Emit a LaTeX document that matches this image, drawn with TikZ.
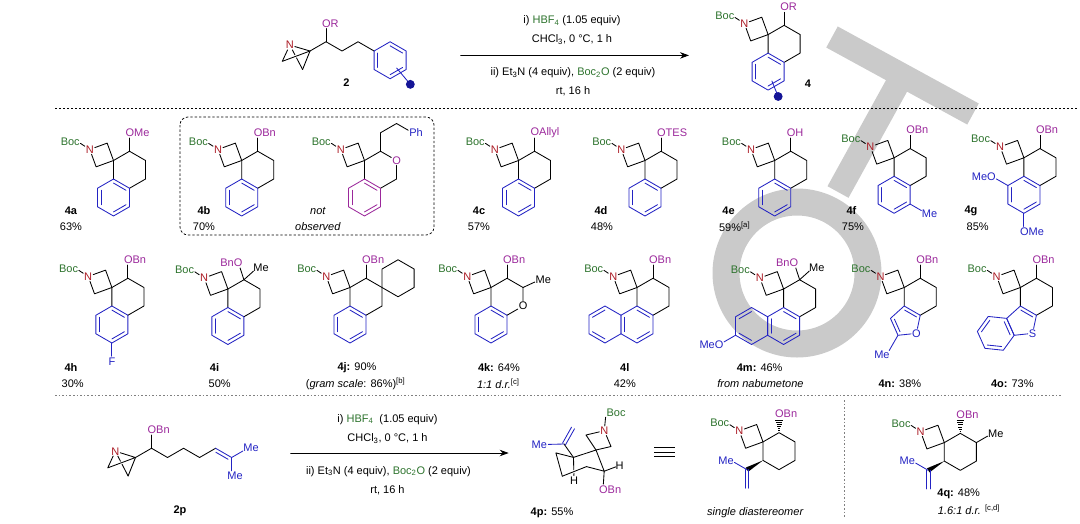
\documentclass[tikz,border=0pt]{standalone}
\usepackage{fontspec}
\setmainfont{Liberation Sans}
\usetikzlibrary{calc,arrows.meta}

\definecolor{aro}{RGB}{35,35,195}
\definecolor{nred}{RGB}{170,25,35}
\definecolor{bocg}{RGB}{45,115,45}
\definecolor{orp}{RGB}{155,40,155}
\definecolor{dotb}{RGB}{20,20,150}
\definecolor{wmark}{RGB}{202,202,202}

\tikzset{
  natom/.style={text=nred},
  orlab/.style={text=orp},
  arlab/.style={text=aro},
  ofirst/.style={anchor=west, xshift=-4.9pt},
  olast/.style={anchor=east, xshift=4.9pt},
  mfirst/.style={anchor=west, xshift=-5.2pt},
  elast/.style={anchor=east, xshift=3.7pt},
  cno/.style={font=\fontsize{11}{13}\selectfont\bfseries},
  sepline/.style={line width=0.6pt, line cap=butt, dash pattern=on 1.6pt off 2pt},
}

% spiro azetidine with Boc on N, spiro carbon at (0,0)
\newcommand{\azet}{%
  \node[natom] (n) at (155:1.414) {N};
  \coordinate (bc) at ($(n)+(147:0.8)$);
  \node[text=bocg, anchor=east, xshift=3.35pt] (boc) at (bc) {Boc};
  \draw (n) -- (110:1) -- (0,0) -- (200:1) -- (n);
  \draw[shorten >=3.6pt] (n) -- (bc);}

% ring on the spiro carbon
\newcommand{\satring}{\draw (0,-1) -- (0,0) -- (0.866,0.5) -- (1.732,0) -- (1.732,-1) -- (0.866,-1.5);}

% hexagon: [colour]{centre}{rotation}{first angles of the double bonds}
\newcommand{\arom}[4][aro]{%
  \draw[#1, shift={(#2)}, rotate=#3] (90:1) -- (30:1) -- (-30:1) -- (-90:1) -- (-150:1) -- (150:1) -- cycle;
  \foreach \a in {#4} {\draw[#1, shift={(#2)}, rotate=#3] (\a:0.78) -- (\a-60:0.78);}}

% O-substituent straight up from the top ring carbon
\newcommand{\orup}[1]{%
  \coordinate (t) at (0.866,0.5);
  \coordinate (o) at (0.866,1.5);
  \draw[shorten >=5.4pt] (t) -- (o);
  \node[orlab, ofirst] (or) at (o) {#1};}

% BnO and Me on the top ring carbon
\newcommand{\quatC}{%
  \coordinate (t) at (0.866,0.5);
  \coordinate (o) at ($(t)+(108:0.95)$);
  \coordinate (m) at ($(t)+(42:1)$);
  \draw[shorten >=5.2pt] (t) -- (o);
  \draw[shorten >=5.5pt] (t) -- (m);
  \node[orlab, olast] (or) at (o) {BnO};
  \node[mfirst] (me) at (m) {Me};}

% five-membered ring below LL-Bt
\newcommand{\fivering}{%
  \coordinate (p1) at (0,-1);
  \coordinate (p2) at (0.866,-1.5);
  \coordinate (p3) at (0.658,-2.478);
  \coordinate (p4) at (-0.337,-2.583);
  \coordinate (p5) at (-0.743,-1.669);
  \coordinate (pc) at (0.089,-1.846);}

\begin{document}
\begin{tikzpicture}[x=1pt, y=-1pt, line width=0.85pt, line cap=round, line join=round,
  every node/.style={font=\fontsize{11}{13}\selectfont, inner sep=0.6pt}]
\useasboundingbox (0,0) rectangle (1080,523);

% watermark
\draw[wmark, line width=27pt] (797,273) circle[radius=71];
\draw[wmark, line width=24pt, line cap=butt] (832,37) -- (973,114);
\draw[wmark, line width=24pt, line cap=butt] (902,76) -- (838,192);

% separators
\draw[line width=0.75pt, line cap=butt, dash pattern=on 2pt off 2pt] (55,108) -- (1078,108);
\draw[gray, sepline] (55,395) -- (1061,395);
\draw[gray, sepline] (844.5,400) -- (844.5,518);
\draw[line width=0.75pt, line cap=butt, dash pattern=on 2.4pt off 2pt, rounded corners=8pt] (180,117) rectangle (434,235);

% ---------- top reaction ----------
\begin{scope}[shift={(310,51)}, x=18.5pt, y=18.5pt]
  \node[natom] (n2) at (-1.09,0.32) {N};
  \coordinate (c3) at (0,0);
  \coordinate (c2) at (-1.5,-0.56);
  \coordinate (c4) at (-0.4,-1.0);
  \draw (c4) -- (n2);
  \draw[white, line width=2.8pt, line cap=butt] ($(c2)!0.38!(c3)$) -- ($(c2)!0.6!(c3)$);
  \draw (n2) -- (c2) -- (c3) -- (n2);
  \draw (c3) -- (c4);
  \draw (c3) -- (0.866,0.5) -- (1.732,0) -- (2.598,0.5) -- (3.464,0);
  \draw[shorten >=5.4pt] (0.866,0.5) -- (0.866,1.5);
  \node[orlab, ofirst] (or2) at (0.866,1.5) {OR};
  \arom{4.33,-0.5}{0}{90,-30,-150}
  \draw[aro] ($(4.33,-0.5)+(-50:0.55)$) -- ($(4.33,-0.5)+(-50:1.5)$);
  \fill[dotb] ($(4.33,-0.5)+(-50:1.7)$) circle[radius=0.24];
\end{scope}
\node[cno] (l2) at (346.5,83) {2};

\coordinate (a1s) at (460.7,55.4);
\coordinate (a1e) at (689,55.4);
\draw[line width=0.9pt, -{Stealth[length=9pt, width=6.5pt]}] (a1s) -- (a1e);
\node (c1a) at (572,20.8) {i) \textcolor{bocg}{HBF\textsubscript{4}} (1.05 equiv)};
\node (c1b) at (572,39.8) {CHCl\textsubscript{3}, 0 °C, 1 h};
\node (c1c) at (573,72.7) {ii) Et\textsubscript{3}N (4 equiv), \textcolor{bocg}{Boc\textsubscript{2}O} (2 equiv)};
\node (c1d) at (573,91.7) {rt, 16 h};

\begin{scope}[shift={(768.1,34.6)}, x=18.5pt, y=18.5pt]
  \azet \satring \arom{0,-2}{0}{90,-30,-150} \orup{OR}
  \draw[aro] ($(0,-2)+(-68:0.55)$) -- ($(0,-2)+(-68:1.3)$);
  \fill[dotb] ($(0,-2)+(-68:1.45)$) circle[radius=0.24];
\end{scope}
\node[cno] (l4) at (808,84) {4};

% ---------- row 1 ----------
\begin{scope}[shift={(113.5,160.5)}, x=18.5pt, y=18.5pt]
  \azet \satring \arom{0,-2}{0}{90,-30,-150} \orup{OMe}
\end{scope}
\node[cno] (l4a) at (71,210.5) {4a};
\node (y4a) at (71,227) {63\%};

\begin{scope}[shift={(241.7,160.5)}, x=18.5pt, y=18.5pt]
  \azet \satring \arom{0,-2}{0}{90,-30,-150} \orup{OBn}
\end{scope}
\node[cno] (l4b) at (204,210.5) {4b};
\node (y4b) at (204,227) {70\%};

\begin{scope}[shift={(364.5,160.5)}, x=18.5pt, y=18.5pt]
  \azet
  \node[orlab] (oy) at (1.732,0) {O};
  \draw (0,-1) -- (0,0) -- (0.866,0.5) -- (oy) -- (1.732,-1) -- (0.866,-1.5);
  \arom[orp]{0,-2}{0}{90,-30,-150}
  \coordinate (ph) at (2.598,1.5);
  \draw[shorten >=5pt] (0.866,0.5) -- (0.866,1.5) -- (1.732,2) -- (ph);
  \node[arlab, anchor=west, xshift=-4.3pt] (phl) at (ph) {Ph};
\end{scope}
\node (nob1) at (318,210.5) {\textit{not}};
\node (nob2) at (318,227) {\textit{observed}};

\begin{scope}[shift={(518.5,160.5)}, x=18.5pt, y=18.5pt]
  \azet \satring \arom{0,-2}{0}{90,-30,-150} \orup{OAllyl}
\end{scope}
\node[cno] (l4c) at (479,210.5) {4c};
\node (y4c) at (479,227) {57\%};

\begin{scope}[shift={(645,160.5)}, x=18.5pt, y=18.5pt]
  \azet \satring \arom{0,-2}{0}{90,-30,-150} \orup{OTES}
\end{scope}
\node[cno] (l4d) at (601,210.5) {4d};
\node (y4d) at (602,227) {48\%};

\begin{scope}[shift={(774.7,160.5)}, x=18.5pt, y=18.5pt]
  \azet \satring \arom{0,-2}{0}{90,-30,-150} \orup{OH}
\end{scope}
\node[cno] (l4e) at (728.6,210.5) {4e};
\node (y4e) at (734.6,227) {59\%\textsuperscript{[a]}};

\begin{scope}[shift={(894.1,157.8)}, x=18.5pt, y=18.5pt]
  \azet \satring \arom{0,-2}{0}{90,-30,-150} \orup{OBn}
  \coordinate (mf) at (1.732,-3);
  \draw[aro, shorten >=5.5pt] (0.866,-2.5) -- (mf);
  \node[arlab, mfirst] (mfl) at (mf) {Me};
\end{scope}
\node[cno] (l4f) at (851.4,210.5) {4f};
\node (y4f) at (853,227) {75\%};

\begin{scope}[shift={(1023.9,157.8)}, x=18.5pt, y=18.5pt]
  \azet \satring \arom{0,-2}{0}{90,-30,-150} \orup{OBn}
  \coordinate (om1) at (-1.732,-1);
  \coordinate (om2) at (0,-4);
  \draw[aro, shorten >=5.2pt] (-0.866,-1.5) -- (om1);
  \draw[aro, shorten >=5.4pt] (0,-3) -- (om2);
  \node[arlab, olast] (om1l) at (om1) {MeO};
  \node[arlab, ofirst] (om2l) at (om2) {OMe};
\end{scope}
\node[cno] (l4g) at (971,210.5) {4g};
\node (y4g) at (977.7,227) {85\%};

% ---------- row 2 ----------
\begin{scope}[shift={(111.9,287.5)}, x=18.5pt, y=18.5pt]
  \azet \satring \arom{0,-2}{0}{90,-30,-150} \orup{OBn}
  \coordinate (fl) at (0,-4);
  \draw[aro, shorten >=5.4pt] (0,-3) -- (fl);
  \node[arlab] (flab) at (fl) {F};
\end{scope}
\node[cno] (l4h) at (71,368) {4h};
\node (y4h) at (72.7,384) {30\%};

\begin{scope}[shift={(227.9,289)}, x=18.5pt, y=18.5pt]
  \azet \satring \arom{0,-2}{0}{90,-30,-150} \quatC
\end{scope}
\node[cno] (l4i) at (214.5,368) {4i};
\node (y4i) at (219.7,384) {50\%};

\begin{scope}[shift={(350,287.5)}, x=18.5pt, y=18.5pt]
  \azet \satring \arom{0,-2}{0}{90,-30,-150} \orup{OBn}
  \draw (1.732,0) -- (1.732,1) -- (2.598,1.5) -- (3.464,1) -- (3.464,0) -- (2.598,-0.5) -- (1.732,0);
\end{scope}
\node (l4j) at (357,368) {\textbf{4j:} 90\%};
\node (y4j) at (355.6,384) {(\textit{gram scale}: 86\%)\textsuperscript{[b]}};

\begin{scope}[shift={(491,287.5)}, x=18.5pt, y=18.5pt]
  \azet
  \node (ok) at (1.732,-1) {O};
  \draw (0,-1) -- (0,0) -- (0.866,0.5) -- (1.732,0) -- (ok) -- (0.866,-1.5);
  \arom{0,-2}{0}{90,-30,-150} \orup{OBn}
  \coordinate (mk) at ($(1.732,0)+(25:1)$);
  \draw[shorten >=5.5pt] (1.732,0) -- (mk);
  \node[mfirst] (mkl) at (mk) {Me};
\end{scope}
\node (l4k) at (499,368) {\textbf{4k:} 64\%};
\node (y4k) at (498.3,384) {\textit{1:1 d.r.}\textsuperscript{[c]}};

\begin{scope}[shift={(637,287.5)}, x=18.5pt, y=18.5pt]
  \azet \satring \orup{OBn}
  \arom{0,-2}{0}{90,-30,-150}
  \arom{-1.732,-2}{0}{150,-90}
\end{scope}
\node[cno] (l4l) at (624.8,368) {4l};
\node (y4l) at (624.8,384) {42\%};

\begin{scope}[shift={(783.6,289)}, x=18.5pt, y=18.5pt]
  \azet \satring \quatC
  \arom{0,-2}{0}{90,-30,-150}
  \arom{-1.732,-2}{0}{150,-90}
  \coordinate (omm) at (-3.464,-3);
  \draw[aro, shorten >=5.2pt] (-2.598,-2.5) -- (omm);
  \node[arlab, olast] (omml) at (omm) {MeO};
\end{scope}
\node (l4m) at (759.7,368) {\textbf{4m:} 46\%};
\node (y4m) at (760.4,384) {\textit{from nabumetone}};

\begin{scope}[shift={(904.2,287.5)}, x=18.5pt, y=18.5pt]
  \azet \satring \orup{OBn} \fivering
  \node[arlab] (ofu) at (p3) {O};
  \draw[aro] (p5) -- (p1) -- (p2) -- (ofu) -- (p4) -- (p5);
  \draw[aro] ($(pc)!0.74!(p1)$) -- ($(pc)!0.74!(p2)$);
  \draw[aro] ($(pc)!0.74!(p4)$) -- ($(pc)!0.74!(p5)$);
  \coordinate (mn) at ($(p4)+(-120:1.2)$);
  \draw[aro, shorten >=4.5pt] (p4) -- (mn);
  \node[arlab, elast] (mnl) at (mn) {Me};
\end{scope}
\node (l4n) at (899.9,384) {\textbf{4n:} 38\%};

\begin{scope}[shift={(1020.4,287.5)}, x=18.5pt, y=18.5pt]
  \azet \satring \orup{OBn} \fivering
  \node[arlab] (sth) at (p3) {S};
  \draw[aro] (p5) -- (p1) -- (p2) -- (sth) -- (p4) -- (p5);
  \draw[aro] ($(pc)!0.74!(p1)$) -- ($(pc)!0.74!(p2)$);
  \arom{-1.332,-2.478}{-36}{90,-30,-150}
\end{scope}
\node (l4o) at (1012.3,384) {\textbf{4o:} 73\%};

% ---------- bottom reaction ----------
\begin{scope}[shift={(135.5,457.5)}, x=18.5pt, y=18.5pt]
  \node[natom] (n2p) at (-1.09,0.34) {N};
  \coordinate (d3) at (0,0);
  \coordinate (d2) at (-1.5,-0.56);
  \coordinate (d4) at (-0.4,-1.0);
  \draw (d4) -- (n2p);
  \draw[white, line width=2.8pt, line cap=butt] ($(d2)!0.38!(d3)$) -- ($(d2)!0.6!(d3)$);
  \draw (n2p) -- (d2) -- (d3) -- (n2p);
  \draw (d3) -- (d4);
  \draw (d3) -- (0.866,0.5) -- (1.732,0) -- (2.598,0.5) -- (3.464,0) -- (4.33,0.5);
  \draw[shorten >=5.4pt] (0.866,0.5) -- (0.866,1.5);
  \node[orlab, ofirst] (or2p) at (0.866,1.5) {OBn};
  \draw[aro] (4.33,0.5) -- (5.196,0);
  \draw[aro] (4.344,0.284) -- (5.002,-0.096);
  \coordinate (me1) at (6.062,0.5);
  \coordinate (me2) at (5.196,-1);
  \draw[aro, shorten >=5.5pt] (5.196,0) -- (me1);
  \draw[aro, shorten >=5.2pt] (5.196,0) -- (me2);
  \node[arlab, mfirst] (me1l) at (me1) {Me};
  \node[arlab, mfirst] (me2l) at (me2) {Me};
\end{scope}
\node[cno] (l2p) at (180,511) {2p};

\coordinate (a2s) at (290.7,453);
\coordinate (a2e) at (508.7,453);
\draw[line width=0.9pt, -{Stealth[length=9pt, width=6.5pt]}] (a2s) -- (a2e);
\node (c2a) at (387.5,419.4) {i) \textcolor{bocg}{HBF\textsubscript{4}}\ \ (1.05 equiv)};
\node (c2b) at (387.5,438.4) {CHCl\textsubscript{3}, 0 °C, 1 h};
\node (c2c) at (388.5,471.3) {ii) Et\textsubscript{3}N (4 equiv), \textcolor{bocg}{Boc\textsubscript{2}O} (2 equiv)};
\node (c2d) at (387.5,490.3) {rt, 16 h};

% 4p chair
\coordinate (sp) at (596,450);
\coordinate (cob) at (604.2,471.2);
\coordinate (piso) at (573.5,457.4);
\coordinate (k5) at (555.9,452.9);
\coordinate (k4) at (562.3,476.2);
\coordinate (k3) at (586.5,466.6);
\coordinate (hax) at (574,480.5);
\draw[shorten >=5pt] (piso) -- (hax);
\node (haxl) at (hax) {H};
\draw (piso) -- (sp) -- (cob) -- (k3);
\draw (piso) -- (k5) -- (k4);
\draw[white, line width=3pt, line cap=butt] ($(k4)!0.35!(k3)$) -- ($(k4)!0.65!(k3)$);
\draw (k4) -- (k3);
\node[natom] (n4p) at (604.3,430.7) {N};
\coordinate (az1) at (586,435);
\coordinate (az2) at (611,446.5);
\draw (sp) -- (az1) -- (n4p) -- (az2) -- (sp);
\node[text=bocg, anchor=south west] (boc4p) at (605.6,417.2) {Boc};
\draw (n4p) -- (boc4p.south west);
\coordinate (heq) at (619.6,465.4);
\draw[shorten >=4.2pt] (cob) -- (heq);
\node (heql) at (heq) {H};
\coordinate (o4p) at (603,489.5);
\draw[shorten >=5.4pt] (cob) -- (o4p);
\node[orlab, ofirst] (o4pl) at (o4p) {OBn};
\coordinate (ci) at (564,444);
\coordinate (cme) at (573,428);
\draw (piso) -- (ci);
\draw[aro] ($(ci)+(-1.5,-0.8)$) -- ($(cme)+(-1.5,-0.8)$);
\draw[aro] ($(ci)+(1.5,0.8)$) -- ($(cme)+(1.5,0.8)$);
\coordinate (me4p) at (544.3,444.5);
\draw[aro, shorten >=4pt] (ci) -- (me4p);
\node[arlab, elast] (me4pl) at (me4p) {Me};
\node (l4p) at (552,512.8) {\textbf{4p:} 55\%};

% equivalence sign
\foreach \yy in {447.5,452,456.5} \draw[line width=0.8pt, line cap=butt] (654,\yy) -- (675,\yy);

% single diastereomer
\begin{scope}[shift={(763,441.9)}, x=18.5pt, y=18.5pt]
  \azet
  \draw (0,0) -- (0.866,0.5) -- (1.732,0) -- (1.732,-1) -- (0.866,-1.5) -- (0,-1) -- (0,0);
  \foreach \i in {1,...,6} \draw[line width=0.7pt, line cap=butt] ($(0.866,0.5)+(-0.034*\i,0.115*\i)$) -- ($(0.866,0.5)+(0.034*\i,0.115*\i)$);
  \node[orlab, ofirst] (ob5) at (0.866,1.5) {OBn};
  \fill (0,-1) -- (-0.931,-1.387) -- (-0.801,-1.613) -- cycle;
  \coordinate (mi) at (-1.732,-1);
  \draw[aro, shorten >=4pt] (-0.866,-1.5) -- (mi);
  \node[arlab, elast] (mil) at (mi) {Me};
  \draw[aro] (-0.956,-1.5) -- (-0.956,-2.5);
  \draw[aro] (-0.776,-1.5) -- (-0.776,-2.5);
\end{scope}
\node (sd) at (755.4,512.8) {\textit{single diastereomer}};

% 4q
\begin{scope}[shift={(944.3,442.6)}, x=18.5pt, y=18.5pt]
  \azet
  \draw (0,0) -- (0.866,0.5) -- (1.732,0) -- (1.732,-1) -- (0.866,-1.5) -- (0,-1) -- (0,0);
  \foreach \i in {1,...,6} \draw[line width=0.7pt, line cap=butt] ($(0.866,0.5)+(-0.034*\i,0.115*\i)$) -- ($(0.866,0.5)+(0.034*\i,0.115*\i)$);
  \node[orlab, ofirst] (ob6) at (0.866,1.5) {OBn};
  \coordinate (mq) at (2.598,0.5);
  \draw[shorten >=5.5pt] (1.732,0) -- (mq);
  \node[mfirst] (mql) at (mq) {Me};
  \fill (0,-1) -- (-0.931,-1.387) -- (-0.801,-1.613) -- cycle;
  \coordinate (mi) at (-1.732,-1);
  \draw[aro, shorten >=4pt] (-0.866,-1.5) -- (mi);
  \node[arlab, elast] (mil) at (mi) {Me};
  \draw[aro] (-0.956,-1.5) -- (-0.956,-2.5);
  \draw[aro] (-0.776,-1.5) -- (-0.776,-2.5);
\end{scope}
\node (l4q) at (958.7,493.8) {\textbf{4q:} 48\%};
\node (y4q) at (969,509.4) {\textit{1.6:1 d.r.} \textsuperscript{[c,d]}};

\end{tikzpicture}
\end{document}
